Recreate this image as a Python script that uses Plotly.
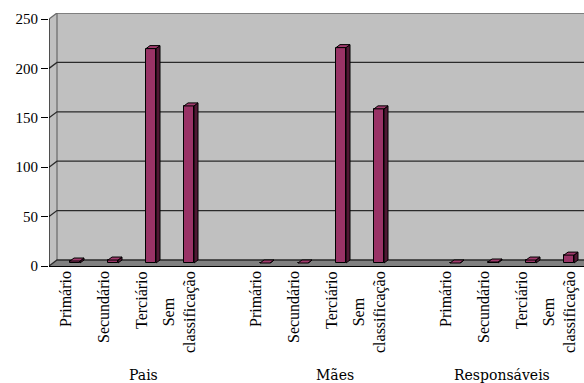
import plotly.graph_objects as go

# ---------------- data ----------------
groups = ["Pais", "Mães", "Responsáveis"]
categories = ["Primário", "Secundário", "Terciário", "Sem<br>classificação"]
pais = [2, 3, 217, 159]
maes = [0, 0, 218, 156]
responsaveis = [0, 1, 3, 8]
y_ticks = [0, 50, 100, 150, 200, 250]

series = [pais, maes, responsaveis]

# ---------------- geometry (layout, pixels) ----------------
W, H = 584, 383
PLOT_L, PLOT_R, PLOT_T, PLOT_B = 49, 584, 13, 266
X0_PX, X_STEP = 75.0, 38.0
Y_PX_PER_UNIT = 0.988
GROUP_GAP = 5
PLOT_HPX = PLOT_B - PLOT_T
SERIF = "Times New Roman, Liberation Serif, Times, serif"

def px_to_x(px):
    return (px - X0_PX) / X_STEP

def px_to_paper_y(py):
    return (PLOT_B - py) / PLOT_HPX

xmin, xmax = px_to_x(PLOT_L), px_to_x(PLOT_R)
ymax = PLOT_HPX / Y_PX_PER_UNIT

DX = 8 / X_STEP
DY = 6 / Y_PX_PER_UNIT
BDX = 4 / X_STEP
BDY = 3 / Y_PX_PER_UNIT
BASE = 3 / Y_PX_PER_UNIT
BW = 10 / X_STEP

FRONT = "#993366"
SIDE = "#4f1733"
TOP = "#a03a6c"

xs, ys = [], []
for g, vals in enumerate(series):
    for i, v in enumerate(vals):
        xs.append(g * GROUP_GAP + i)
        ys.append(v)

fig = go.Figure()

fig.add_trace(go.Bar(
    x=xs, y=ys, base=[BASE] * len(ys), width=BW,
    marker=dict(color=FRONT, line=dict(color="black", width=1)),
    hoverinfo="skip", showlegend=False,
))

side_x, side_y, top_x, top_y = [], [], [], []
for c, v in zip(xs, ys):
    xl, xr = c - BW / 2, c + BW / 2
    yb, yt = BASE, BASE + v
    side_x += [xr, xr + BDX, xr + BDX, xr, xr, None]
    side_y += [yb, yb + BDY, yt + BDY, yt, yb, None]
    top_x += [xl, xr, xr + BDX, xl + BDX, xl, None]
    top_y += [yt, yt, yt + BDY, yt + BDY, yt, None]

fig.add_trace(go.Scatter(x=side_x, y=side_y, mode="lines", fill="toself",
                         fillcolor=SIDE, line=dict(color="black", width=1),
                         hoverinfo="skip", showlegend=False))
fig.add_trace(go.Scatter(x=top_x, y=top_y, mode="lines", fill="toself",
                         fillcolor=TOP, line=dict(color="black", width=1),
                         hoverinfo="skip", showlegend=False))

shapes = []
shapes.append(dict(type="rect", xref="x", yref="y", x0=xmin + DX, x1=xmax,
                   y0=DY, y1=250 + DY, fillcolor="#C0C0C0", line=dict(width=0),
                   layer="below"))
shapes.append(dict(type="path", xref="x", yref="y",
                   path=f"M{xmin},0 L{xmin + DX},{DY} L{xmin + DX},{250 + DY} L{xmin},250 Z",
                   fillcolor="#C0C0C0", line=dict(width=0), layer="below"))
shapes.append(dict(type="path", xref="x", yref="y",
                   path=f"M{xmin},0 L{xmax},0 L{xmax},{DY} L{xmin + DX},{DY} Z",
                   fillcolor="#808080", line=dict(width=0), layer="below"))
shapes.append(dict(type="line", xref="x", yref="y", x0=xmin + DX, x1=xmin + DX,
                   y0=DY, y1=250 + DY, line=dict(color="#7a7a7a", width=1.5),
                   layer="below"))
for v in y_ticks:
    col = "#6a6a6a" if v == 250 else "#2a2a2a"
    shapes.append(dict(type="path", xref="x", yref="y",
                       path=f"M{xmin},{v} L{xmin + DX},{v + DY} L{xmax},{v + DY}",
                       line=dict(color=col, width=1.3), layer="below"))
shapes.append(dict(type="line", xref="x", yref="y", x0=xmin, x1=xmin, y0=0, y1=250,
                   line=dict(color="black", width=1.2), layer="above"))

annotations = []
LABEL_SHIFT = 10 / X_STEP
for g in range(len(groups)):
    for i, cat in enumerate(categories):
        annotations.append(dict(
            x=g * GROUP_GAP + i - LABEL_SHIFT, xref="x",
            y=px_to_paper_y(269), yref="paper", yanchor="top", xanchor="center",
            text=cat, textangle=-90, showarrow=False, align="center",
            font=dict(family=SERIF, size=16, color="black"),
        ))

group_label_px = [143, 335, 502]
for name, gx in zip(groups, group_label_px):
    annotations.append(dict(
        x=px_to_x(gx), xref="x", y=px_to_paper_y(375), yref="paper",
        xanchor="center", yanchor="middle", text=name, showarrow=False,
        font=dict(family="DejaVu Serif, serif", size=14, color="black"),
    ))

fig.update_layout(
    width=W, height=H, autosize=False,
    margin=dict(l=PLOT_L, r=W - PLOT_R, t=PLOT_T, b=H - PLOT_B, pad=0),
    paper_bgcolor="white", plot_bgcolor="white",
    shapes=shapes, annotations=annotations,
    bargap=0,
    xaxis=dict(range=[xmin, xmax], showgrid=False, zeroline=False,
               showticklabels=False, ticks="", showline=True,
               linecolor="black", linewidth=1.2, fixedrange=True),
    yaxis=dict(range=[0, ymax], showgrid=False, zeroline=False, showline=False,
               tickvals=y_ticks, ticktext=[str(t) for t in y_ticks],
               ticks="outside", ticklen=7, tickcolor="black", tickwidth=1.2,
               tickfont=dict(family=SERIF, size=15, color="black"),
               fixedrange=True),
    showlegend=False,
)

fig.write_html("out.html")
